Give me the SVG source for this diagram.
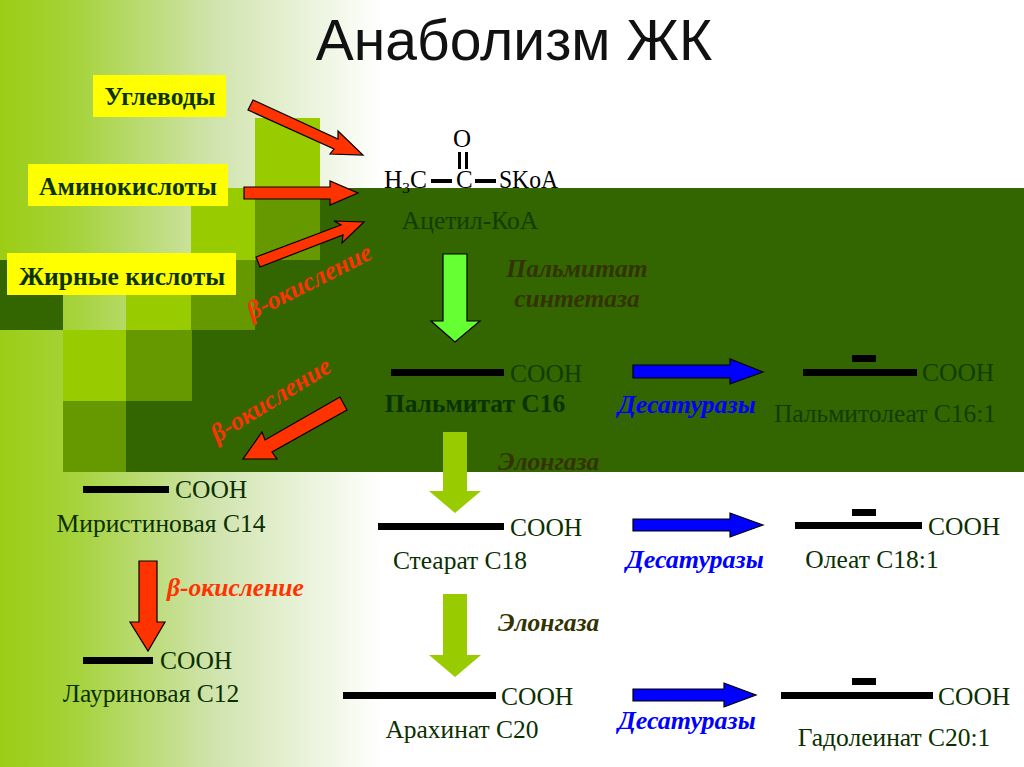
<svg xmlns="http://www.w3.org/2000/svg" width="1024" height="767" viewBox="0 0 1024 767">
<defs>
<linearGradient id="bg" x1="0" x2="1" y1="0" y2="0"><stop offset="0" stop-color="#9ccd14"/><stop offset="0.2" stop-color="#a6d33c"/><stop offset="0.55" stop-color="#cfe3ab"/><stop offset="1" stop-color="#ffffff"/></linearGradient>
</defs>
<style>
text{font-family:"Liberation Serif","Times New Roman",serif}
.sq1{fill:#99cc00}.sq2{fill:#669900}.sq3{fill:#336600}
.ar{stroke:#000;stroke-width:1.2}
.red{fill:#ff3300}.blue{fill:#0000ff}.lime{fill:#99cc00}.bright{fill:#66ff33}
.bar{fill:#000}
.t{font-size:25.5px;fill:#0a3000}
.td{font-size:25.5px;fill:#103d00}
.lab{font-size:25.5px;font-weight:bold;fill:#0a3300}
.box{fill:#ffff00}
.bo{font-size:25.5px;font-weight:bold;font-style:italic;fill:#ff3300}
.de{font-size:26px;font-weight:bold;font-style:italic;fill:#0000ff}
.el{font-size:25.5px;font-weight:bold;font-style:italic;fill:#333300}
.ch{font-size:25px;fill:#000}
</style>
<rect width="1024" height="767" fill="#fff"/>
<rect x="0" y="0" width="382" height="767" fill="url(#bg)"/>
<g id="blocks">
<path class="sq3" d="M320 188H1024V472H126V401H191V330H255V260H320Z"/>
<rect class="sq3" x="0" y="260" width="63" height="70"/>
<rect class="sq1" x="255" y="118" width="65" height="70"/>
<rect class="sq2" x="255" y="188" width="65" height="72"/>
<rect class="sq1" x="191" y="188" width="64" height="72"/>
<rect class="sq2" x="191" y="260" width="64" height="70"/>
<rect class="sq1" x="126" y="260" width="65" height="70"/>
<rect class="sq1" x="63" y="330" width="63" height="71"/>
<rect class="sq2" x="126" y="330" width="66" height="71"/>
<rect class="sq2" x="63" y="401" width="63" height="71"/>
</g>
<text x="514" y="60" text-anchor="middle" style="font-family:'Liberation Sans',Arial,sans-serif;font-size:57px" fill="#111">Анаболизм ЖК</text>
<g id="n-carbs"><rect class="box" x="93" y="75" width="133" height="42"/><text class="lab" x="160" y="105" text-anchor="middle">Углеводы</text></g>
<g id="n-amino"><rect class="box" x="28" y="164" width="200" height="42"/><text class="lab" x="128" y="195" text-anchor="middle">Аминокислоты</text></g>
<g id="n-fat"><rect class="box" x="7" y="253" width="229" height="42"/><text class="lab" x="122" y="285" text-anchor="middle">Жирные кислоты</text></g>
<g id="n-acetyl">
<text class="ch" x="384" y="188" textLength="43" lengthAdjust="spacingAndGlyphs">H<tspan font-size="15" dy="5">3</tspan><tspan dy="-5">C</tspan></text>
<text class="ch" x="456" y="188">C</text>
<text class="ch" x="499" y="188" textLength="59" lengthAdjust="spacingAndGlyphs">SKoA</text>
<text class="ch" x="453" y="147">O</text>
<rect class="bar" x="431" y="179" width="21" height="4"/><rect class="bar" x="475" y="179" width="21" height="4"/>
<rect class="bar" x="458" y="152" width="3" height="17"/><rect class="bar" x="465" y="152" width="3" height="17"/>
<text class="td" x="470" y="229" text-anchor="middle">Ацетил-КоА</text>
</g>
<g id="n-palmitate"><rect class="bar" x="391" y="369" width="113" height="7"/><text class="td" x="510" y="382">COOH</text><text class="lab" x="475" y="412" text-anchor="middle">Пальмитат C16</text></g>
<g id="n-palmitoleate"><rect class="bar" x="852" y="355" width="24" height="7"/><rect class="bar" x="803" y="369" width="114" height="7"/><text class="td" x="922" y="381">COOH</text><text class="td" x="885" y="422" text-anchor="middle">Пальмитолеат C16:1</text></g>
<g id="n-myristic"><rect class="bar" x="83" y="486" width="86" height="7"/><text class="t" x="175" y="498">COOH</text><text class="t" x="161" y="532" text-anchor="middle">Миристиновая С14</text></g>
<g id="n-stearate"><rect class="bar" x="378" y="523" width="126" height="7"/><text class="t" x="510" y="536">COOH</text><text class="t" x="460" y="569" text-anchor="middle">Стеарат С18</text></g>
<g id="n-oleate"><rect class="bar" x="852" y="509" width="24" height="7"/><rect class="bar" x="795" y="522" width="127" height="7"/><text class="t" x="928" y="535">COOH</text><text class="t" x="872" y="568" text-anchor="middle">Олеат С18:1</text></g>
<g id="n-lauric"><rect class="bar" x="83" y="657" width="70" height="7"/><text class="t" x="160" y="669">COOH</text><text class="t" x="151" y="702" text-anchor="middle">Лауриновая С12</text></g>
<g id="n-arachinate"><rect class="bar" x="343" y="692" width="153" height="7"/><text class="t" x="501" y="705">COOH</text><text class="t" x="462" y="738" text-anchor="middle">Арахинат С20</text></g>
<g id="n-gadoleate"><rect class="bar" x="852" y="678" width="24" height="7"/><rect class="bar" x="781" y="692" width="152" height="7"/><text class="t" x="938" y="705">COOH</text><text class="t" x="894" y="746" text-anchor="middle">Гадолеинат С20:1</text></g>
<g id="connectors">
<polygon class="ar red" points="253,100 338,139 338,131 363,155 330,154 334,149 248,110"/>
<polygon class="ar red" points="244,187 330,187 330,181 358,193 330,205 330,199 244,199"/>
<polygon class="ar red" points="256,257 341,225 334,221 364,222 342,243 343,235 260,267"/>
<polygon class="ar red" points="340,397 265,440 262,432 243,459 277,459 272,452 347,410"/>
<polygon class="ar red" points="139,561 157,561 157,622 165,622 148,651 130,622 139,622"/>
<polygon class="ar bright" points="443,254 467,254 467,321 480,321 455,342 431,321 443,321"/>
<polygon class="lime" points="443,432 467,432 467,491 481,491 455,513 429,491 443,491"/>
<polygon class="lime" points="443,594 467,594 467,655 481,655 455,677 429,655 443,655"/>
<polygon class="ar blue" points="633,365 730,365 730,359 763,372 730,384 730,378 633,378"/>
<polygon class="ar blue" points="633,519 730,519 730,513 763,525 730,537 730,531 633,531"/>
<polygon class="ar blue" points="633,689 724,689 724,683 756,695 724,707 724,701 633,701"/>
</g>
<g id="labels">
<text class="bo" transform="translate(252,320) rotate(-27)">β-окисление</text>
<text class="bo" transform="translate(217,443) rotate(-32)">β-окисление</text>
<text class="bo" x="167" y="596">β-окисление</text>
<text class="el" x="577" y="277" text-anchor="middle">Пальмитат</text>
<text class="el" x="577" y="307" text-anchor="middle">синтетаза</text>
<text class="el" x="498" y="470">Элонгаза</text>
<text class="el" x="498" y="631">Элонгаза</text>
<text class="de" x="618" y="413">Десатуразы</text>
<text class="de" x="626" y="568">Десатуразы</text>
<text class="de" x="618" y="729">Десатуразы</text>
</g>
</svg>
